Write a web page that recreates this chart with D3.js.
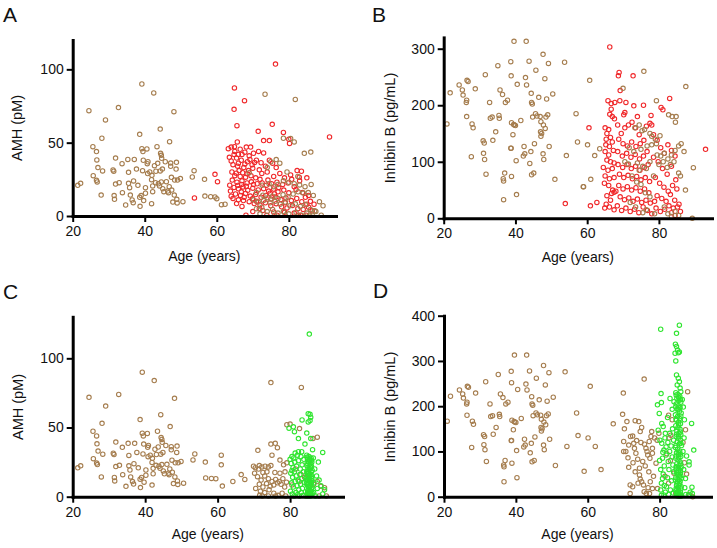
<!DOCTYPE html>
<html><head><meta charset="utf-8">
<script src="https://cdn.jsdelivr.net/npm/d3@7"></script>
<style>body{margin:0;background:#fff}svg{display:block}text{font-family:"Liberation Sans",Arial,Helvetica,sans-serif;fill:#111}</style>
</head><body>
<svg id="c" width="717" height="548"></svg>
<script>
// ---- data: [age, value] ----
const youngAMH = [[21.4,20.9],[22.2,22.3],[24.5,71.8],[25.6,47.3],[25.7,27.5],[26.6,43.9],[26.7,38.2],[26.6,24.3],[26.8,23.2],[27,33],[27.9,14.3],[28.1,53],[28.3,30.7],[29.1,65.5],[31.2,31.4],[31.4,30.5],[31.9,39.5],[31.5,13.9],[31.6,11.4],[31.9,21.8],[32.7,73.9],[32.9,22.7],[33.7,35.7],[33.8,15.9],[34.7,7.5],[35.3,38.6],[35.5,29.8],[35.5,22.3],[35.8,19.3],[36,14.3],[36.5,10.9],[36.9,23.9],[37.1,38.6],[36.8,9.1],[37.7,32],[38.1,20.9],[38.6,55.7],[38.6,12.7],[38.7,6.6],[39,13.9],[39.2,90],[39.2,45.9],[39.5,43.9],[39.4,30.9],[39.6,38],[39.7,10.5],[40.2,15.5],[40.2,19.3],[40.6,45.7],[40.7,35.7],[40.8,28.9],[40.9,37],[41.4,30],[41.9,8.4],[41.9,24.8],[42,27.7],[42.5,83.9],[42.2,20.5],[42.2,16.6],[42.7,34.3],[43.1,30.5],[43,22.7],[43.4,47.3],[43.6,35.9],[43.8,22],[44.1,20.5],[44.3,59.3],[44.3,30.7],[44.4,42.7],[44.6,41.4],[44.7,39.3],[44.6,23.2],[44.9,32],[45,18.6],[45.3,16.6],[45.7,37],[46,23.4],[46.4,17],[46.6,15.9],[46.8,20],[46.9,50.7],[47.2,36.1],[47.2,33.9],[47.4,26.4],[47.5,17.7],[47.8,9.5],[48.1,71.1],[48.2,14.3],[48.3,24.5],[48.7,32],[48.8,36.6],[49.1,24.5],[49,8.9],[48.9,11.4],[49.9,25.5],[50.6,9.8],[53.2,26.6],[53.7,30.9],[56.6,25],[56.7,13.6],[58.3,13.2],[59.5,13],[61.3,7.7]];

const youngInhB = [[20.9,167],[21.8,222],[24.3,236],[25.2,227],[25.4,218],[26.3,205],[26.4,209],[26.4,180],[26.5,244],[26.8,242],[27.7,109],[27.9,167],[28.2,160],[28.8,229],[31,137],[31.1,115],[31.3,133],[31.4,104],[31.6,254],[31.8,78],[32.8,205],[33,177],[33.5,179],[33.7,138],[34.5,153],[35.1,270],[35.4,182],[35.5,177],[35.7,227],[36.4,219],[36.6,70],[36.7,66],[36.7,33],[37,80],[37.2,205],[37.8,209],[38.7,277],[38.8,252],[38.7,124],[38.8,124],[38.9,74],[38.9,169],[39.3,148],[39.5,166],[39.6,313],[39.7,165],[40,164],[40.2,102],[40.3,42],[40.5,237],[41.5,173],[42.2,110],[42.4,127],[42.6,114],[42.8,249],[43,313],[43.1,236],[43.8,278],[44,97],[44.3,118],[44.4,221],[44.5,77],[44.5,205],[44.7,202],[44.8,179],[45.1,80],[45.3,132],[45.6,185],[45.7,262],[46,181],[46.5,214],[46.9,180],[47,153],[47.1,145],[47.1,171],[47.3,150],[47.7,290],[47.7,114],[47.8,165],[47.9,104],[48.2,247],[48.3,159],[48.5,179],[48.7,211],[49,183],[49.2,274],[49.4,127],[50.4,220],[51,69],[53.7,276],[54.2,111],[56.9,185],[57.3,135],[59,56],[60.1,130],[60.7,244],[62.1,111]];

const oldBrownA = [[73.4,83],[81.8,79.5],[76.5,38.5],[77.5,36],[78.5,53],[80.5,52.8],[81.5,50.5],[84.3,42.7],[86.1,43.6],[62.3,8],[60,11.8],[69,29.5],[72.6,21],[74.5,22],[75.8,20],[77,21.5],[78.5,24],[80,23],[81.5,22],[83,21.2],[84.5,20],[86.2,21.5],[71,16],[72.8,14.2],[74.2,12.5],[75.5,13.5],[77,12],[78.4,14.5],[79.8,13],[81.2,15],[82.6,16.5],[84,15.6],[85.4,16],[86.8,14],[70.2,11],[71.5,9.5],[73,10.5],[74.8,9],[76.2,10],[77.6,8],[79,9.5],[80.3,7],[81.8,8.3],[83.2,6.5],[84.6,7.8],[86,4.5],[87.2,3.5],[88.5,9.8],[89.5,7],[71,5],[72.5,6],[74,3],[75.5,4.5],[77,2],[78.5,3],[80,1.5],[82,2.5],[83.5,0.5],[85,2],[86.5,0.5],[89,0.5],[72,1.5],[76,0.5],[79,0.5],[85.8,0.5],[87.5,3],[75,37],[74,33],[79.5,30],[82.5,27]];

const redA = [[76.3,103.6],[64.9,87.3],[67.7,78.6],[64.8,72.7],[65.6,61.6],[75.4,62.5],[71.5,57.7],[78.5,57],[91.3,53.9],[73,51.4],[74.6,51.4],[80,52.3],[80.2,49.5],[65.7,50.5],[63.2,45.9],[64,47],[64.9,47.3],[68.2,47],[69.4,47],[64.8,42],[66,42],[67,42],[59.5,28.4],[60.2,23.4],[53.8,12.3],[65.5,39.5],[66.8,38],[68.5,37],[70.5,36.5],[71,38],[72.3,36.3],[69.8,35],[64.5,35],[65.8,34],[67.5,33],[66.2,31],[64.2,30],[68.8,31],[70,32.5],[71.8,31.5],[73.5,34],[74.6,38],[75.5,36],[76.5,33],[74,30],[72.5,29],[65,27.5],[66.5,27],[68,26.5],[69.5,27.5],[70.8,26],[64.3,24.5],[65.6,23],[67,24],[68.4,22.5],[69.6,23.3],[71.2,22],[72.6,22.5],[73.8,21],[75.2,22],[76.7,23],[78.3,21.5],[79.8,22.5],[81.5,20],[83,24],[80.5,28],[82.3,31],[83.5,30.5],[85,26],[64.8,19.5],[66,18.5],[67.3,19.8],[68.6,17.5],[70,19],[71.5,17.8],[73,18.6],[74.4,17],[75.8,18.4],[77,16.5],[78.6,17.7],[80,15.8],[65.2,15],[66.6,14],[68,15.4],[69.3,13.6],[70.8,14.6],[72.3,12.8],[73.6,14],[75,11.6],[76.4,13],[77.8,11.2],[79.2,12.3],[80.7,10.5],[82.2,12],[83.6,9.8],[85,8],[64.5,12],[66,11],[67.4,10.5],[69,9.8],[70.4,8.5],[72,7.6],[73.5,9],[75,7],[76.5,8.4],[78,6.3],[79.5,5.5],[81,7.2],[82.5,5],[84,4.5],[85.5,6],[86.5,3.5],[68.1,0.5],[73.9,0.5],[76.7,0.5],[82.7,0.5],[83.3,0.5],[84.8,0.5],[70,3],[72.8,3.8],[75.8,2.8],[78.8,2.5],[81.5,2],[63.5,40],[65,44],[66.5,45.5],[67.8,43.5],[69,41],[70.2,42.8],[71.6,44],[73,43],[64,37.5],[66,36],[67.8,35.5],[69.2,38.5],[65.4,29.2],[67.2,29.5],[68.4,28.8],[63.6,21],[63.8,17],[64,13.5],[65.8,20.8],[66.8,16.5],[67.6,12.8],[69.9,11.8],[71,10],[74.2,24.5],[75.8,27],[77.5,29],[78.8,26],[80.8,25],[82,18],[83.8,16],[84.6,12.7],[79,9],[76,15],[72,25],[66.9,21.5],[68.2,20.2],[70.2,21.5],[74.8,15.5],[77.2,19.5],[82.9,26.5],[85.5,14],[86,10],[87,8],[71.8,5],[67,6.5],[65.5,8.5]];

const oldBrownB = [[70,230],[75.8,260],[79.3,208],[82.7,183],[83.7,180],[84.8,180],[84.6,170],[87.5,233],[89.6,89.5],[87.4,50],[76,157],[77.5,150],[78,145],[79,140],[74.5,165],[75.3,155],[73.3,160],[71.7,125],[73,118],[75,122],[76.7,128],[78,130],[79.3,132],[80.5,110],[81.5,115],[82.5,105],[83.5,112],[84.5,120],[85.5,128],[86.2,132],[80,95],[81.2,100],[82.3,90],[83.2,95],[84.2,100],[85.5,80],[86,75],[87,118],[74,98],[75.5,92],[76.5,88],[77.5,100],[78.5,75],[74.5,85],[72.5,75],[73.8,64],[75,60],[76.2,45],[77.5,38],[72,28],[73.5,20],[75.5,10],[76.5,15],[78.8,8],[81.5,20],[82.5,8],[83.5,3],[84.5,12],[85.5,5],[89.3,0],[63.5,123],[70.5,100],[71.5,96],[79.5,112],[80.3,146],[61,69],[58.9,56]];

const redB = [[66.3,303],[68.9,258],[68.7,252],[72.8,252],[69.2,226],[65.8,208],[66.7,203],[67.7,205],[69.1,208],[66.7,193],[66.3,184],[67,180],[67.6,176],[73,199],[74,180],[70.2,183],[70.5,187],[83,212],[80.6,196],[81.1,192],[93,122],[60.5,160],[53.9,26],[60.9,22],[62.7,28],[65,160],[65.5,150],[66,157],[65.3,140],[66.5,143],[65.2,130],[66.2,127],[67,135],[65,118],[66,112],[67.3,120],[65.5,103],[66.5,100],[67.5,98],[64.5,90],[65.8,85],[67,88],[65,75],[66.2,70],[67.5,72],[64.8,62],[66,58],[67.1,50],[67.5,46],[66.8,44],[68,48],[65.5,40],[66.5,32],[65.3,25],[66.2,20],[64.9,18],[67.5,15],[68.5,165],[69.5,150],[70.5,160],[71.5,165],[72.5,170],[73.5,160],[74.5,148],[68.8,140],[70,132],[71.2,128],[72.4,135],[73.6,127],[74.8,132],[75.8,138],[68.5,118],[69.8,110],[71,115],[72.2,108],[73.4,113],[74.6,105],[75.7,110],[76.7,118],[68.6,95],[69.9,90],[71.1,95],[72.3,88],[73.5,92],[74.7,85],[75.9,90],[77,95],[69,78],[70.2,72],[71.4,76],[72.6,70],[73.8,74],[75,68],[76.2,72],[77.4,65],[68.8,58],[70,52],[71.2,56],[72.4,50],[73.6,54],[74.8,48],[76,52],[77.2,45],[69.2,38],[70.4,33],[71.6,36],[72.8,30],[74,34],[75.2,28],[76.4,32],[77.6,27],[78.8,30],[68.4,22],[69.6,14],[70.8,18],[72,12],[73.2,16],[74.4,10],[75.6,20],[76.8,14],[78,8],[79.2,18],[80.4,12],[81.6,16],[82.8,22],[84,18],[85.2,20],[83.5,10],[84.5,5],[86,12],[78.5,148],[79.5,138],[80.5,125],[81.5,115],[82.5,130],[83.5,120],[84.5,110],[78.5,108],[79.8,100],[81,88],[82.3,78],[83.5,92],[84.7,68],[79,72],[80.2,62],[81.4,55],[82.6,48],[83.8,58],[85,52],[79.5,40],[80.8,35],[82,30],[83.2,42],[84.4,32],[85.6,25],[78,165],[76.5,163],[77.8,182],[70.8,205],[75.7,200],[77.5,168]];

const oldBrownC = [[74.7,82.5],[83.1,79],[79.1,52],[80,52.5],[82.6,49.2],[87.5,43],[71.1,33.5],[74.7,38],[75.9,38.6],[76.5,35.4],[75,30],[77.2,26.5],[78.2,23],[79.1,24.5],[69.9,22],[70.4,21],[71.3,20],[72.2,21.5],[73.1,22],[74,21.5],[74.7,22.5],[66.5,16],[67.5,12.5],[64.2,11],[61,30],[61,23],[70.2,17],[71,14.5],[72,12],[73,15],[74,13],[75,11],[76,12.5],[77,11],[78,13],[79,10.5],[71.5,9],[72.5,7],[73.5,9.5],[74.5,7.5],[75.5,8.5],[76.5,10],[77.5,9],[78.5,7],[70.5,6],[71.8,4],[73,3],[74.2,5],[75.5,2.5],[76.7,1],[77.8,2.5],[78.8,0.5],[71.6,1],[72.3,0.5],[74,0.5],[76,0.5],[80.5,8.5],[82.5,11],[84,14],[85,17],[86.5,9],[87.5,11],[88.5,7.5],[89.5,6.5],[88,0.5],[90,0.5],[84.8,2.5],[86.3,42],[83,16],[81.5,20],[78.6,18],[77.2,17],[75.8,17.5],[73.6,18],[72.5,17.5],[71.5,22.5]];

const greenC = [[85.3,117.5],[85,60],[85.5,59.5],[85.7,57.5],[85.5,55],[85,54],[83.3,55.5],[84.6,46],[82.3,42],[85.7,42],[81.2,47],[79.7,49.5],[80.9,50.5],[84.1,38],[86.2,34],[89,32],[83.2,32.5],[82.3,32.5],[81.4,31.5],[80.5,29],[80,27],[84.6,30],[85.2,29],[85.8,28],[84.8,27],[85.4,26],[86,25],[84.7,24],[85.3,23],[85.9,22],[84.9,21],[85.5,20],[86.1,19],[84.6,18],[85.2,17],[85.8,16],[84.8,15],[85.4,14],[86,13],[84.7,12],[85.3,11],[85.9,10],[84.9,9],[85.5,8],[86.1,7],[84.6,6],[85.2,5],[85.8,4],[84.8,3],[85.4,2],[86,1],[85,0.5],[85.6,0.5],[84.4,0.5],[85.1,25.5],[85.6,21.5],[84.9,18.5],[85.4,12.5],[85,7.5],[85.6,3.5],[84.5,9.5],[85.9,14.5],[84.7,28.5],[85.3,27.5],[85.9,26.5],[84.6,22.5],[85.2,19.5],[85.8,18],[84.8,16.5],[85.4,15.5],[86,11.5],[84.7,10.5],[85.3,6.5],[85.9,5.5],[84.9,4.5],[85.5,1.5],[86.1,2.5],[84.5,14],[85.7,24],[84.9,12],[85.1,3],[85.7,9],[80.3,24],[80.8,21],[81.3,25],[81.8,22],[82.3,26],[82.8,20],[83.3,23],[83.8,27],[80.2,17],[80.7,14],[81.2,18],[81.7,15],[82.2,12],[82.7,16],[83.2,13],[83.7,18],[80.4,10],[80.9,7],[81.4,11],[81.9,8],[82.4,5],[82.9,9],[83.4,6],[83.9,10],[80.1,4],[80.6,2],[81.1,0.5],[81.6,3],[82.1,1.5],[82.6,0.5],[83.1,3],[83.6,1],[80.5,19],[81,28],[82,30],[83,29],[86.8,20],[87.3,15],[86.6,10],[87.5,6],[88,12],[88.5,8],[89.5,5],[89,2],[86.5,3],[87.8,25],[86.4,28],[87,0.5]];

const oldBrownD = [[63.7,60],[67.1,161],[69.9,229],[69.7,182],[70.2,150],[70.9,166],[71.4,114],[71.9,133],[72.5,134],[70,122],[70,100],[70.6,100],[71.2,86],[71.4,65],[71.8,26],[72.5,22],[71.8,7],[73.2,168],[74.2,166],[74.6,144],[75,153],[75.7,260],[73,107],[73.4,96],[73.9,83],[74.4,63],[74.4,48],[74.6,39],[75,33],[75.5,26],[75.7,11],[76.3,7],[76.7,92],[76.2,107],[77.1,122],[77.6,133],[77.8,144],[77.4,33],[78,18],[77.2,7],[78,107],[78,96],[79,74],[79.4,18],[84,52],[84.5,7],[89.2,0],[83.1,136],[72.8,118],[73.6,124],[74.8,120],[75.8,116],[76.5,100],[77.3,85],[75.3,78],[76,68],[77,55],[78.3,45],[72.6,75],[73.2,55],[74,30],[76.8,20],[78.6,130],[79.3,125],[79.8,140],[82.5,180],[83.5,170],[82.6,130],[86.5,120],[87.2,148],[87.8,232],[87.5,50],[86.9,75],[82,95],[83,80],[81.5,45],[82.5,30],[88.3,5]];

const greenD = [[85.5,379],[80.3,370],[84.7,361],[84.4,337],[84.7,332],[85,324],[85.5,320],[84.3,317],[85.2,318],[84.5,300],[84.7,269],[85.2,262],[85.5,254],[84.9,247],[85.7,240],[80.4,228],[82.9,217],[79.4,203],[79.9,184],[88.9,162],[80.6,162],[81,155],[79.6,147],[80.1,125],[80.6,118],[81.2,103],[88.2,77],[88.2,70],[89.1,7],[89.5,103],[89,21],[87.3,5],[88,3],[80.5,208],[81.6,140],[82.2,175],[83.5,193],[84,210],[85.9,232],[86.3,215],[86.6,198],[80,80],[80.3,60],[80.8,40],[81.3,25],[81.6,10],[80.5,3],[84.5,230],[85.1,226],[85.6,222],[84.8,217],[85.4,213],[85.9,209],[84.6,205],[85.2,201],[85.7,197],[84.9,193],[85.5,189],[86,185],[84.4,181],[85,177],[85.6,173],[84.7,169],[85.3,165],[85.8,161],[84.5,157],[85.1,153],[85.7,149],[84.8,145],[85.4,141],[85.9,137],[84.6,133],[85.2,129],[85.8,125],[84.9,121],[85.5,117],[86.1,113],[84.4,109],[85,105],[85.6,101],[84.7,97],[85.3,93],[85.9,89],[84.5,85],[85.1,81],[85.7,77],[84.8,73],[85.4,69],[86,65],[84.6,61],[85.2,57],[85.8,53],[84.9,49],[85.5,45],[86.1,41],[84.4,37],[85,33],[85.6,29],[84.7,25],[85.3,21],[85.9,17],[84.5,13],[85.1,9],[85.7,5],[84.8,2],[85.4,1],[86,3],[84.6,225],[85.3,219],[85.8,214],[84.5,199],[85.2,194],[85.9,178],[84.6,171],[85.3,159],[85.8,143],[84.7,138],[85.3,134],[85.9,118],[84.5,113],[85.2,98],[85.8,94],[84.6,90],[85.3,86],[85.9,72],[84.6,66],[85.2,63],[85.8,58],[84.7,54],[85.3,50],[85.9,46],[84.5,42],[85.1,38],[85.7,34],[84.8,30],[85.4,26],[86,22],[84.6,18],[85.2,14],[85.8,10],[84.7,7],[85.3,4],[85.9,1],[81.5,130],[82.3,120],[83.2,112],[83.9,125],[82.8,100],[81.8,92],[83.5,88],[80.8,85],[82.4,78],[83.7,70],[81.3,68],[82.6,60],[83.9,55],[81,50],[82.2,42],[83.3,35],[80.5,30],[81.9,22],[83,15],[83.8,8],[82.5,5],[81.2,4],[80.3,15],[82.8,140],[83.6,150],[81.8,110],[80.9,98],[86.8,130],[87.5,90],[86.7,60],[87.2,40],[88.5,10],[87,20],[86.5,100],[86.9,170]];

const xTicks = [20, 40, 60, 80];
const yTicksAMH_A = [0, 50, 100];
const yTicksInh_B = [0, 100, 200, 300];
const yTicksAMH_C = [0, 50, 100];
const yTicksInh_D = [0, 100, 200, 300, 400];

const BROWN = "#a57d4e", RED = "#f0282a", GREEN = "#2fe52f";

const panels = [
  {letter:"A", lx:3, ly:22, xr:[72.7,336], xd:[20,93.1], yr:[216,40], yd:[0,120], yt:yTicksAMH_A, ylab:"AMH (pM)", ylx:17, yly:128, xly:261,
   series:[[youngAMH,BROWN],[redA,RED],[oldBrownA,BROWN]]},
  {letter:"B", lx:372, ly:22, xr:[443.7,712], xd:[20,94.8], yr:[218.3,37.4], yd:[0,320], yt:yTicksInh_B, ylab:"Inhibin B (pg/mL)", ylx:390, yly:128, xly:262,
   series:[[youngInhB,BROWN],[redB,RED],[oldBrownB,BROWN]]},
  {letter:"C", lx:3, ly:299, xr:[72.7,343], xd:[20,94.6], yr:[496.7,316.8], yd:[0,130], yt:yTicksAMH_C, ylab:"AMH (pM)", ylx:18, yly:407, xly:539,
   series:[[youngAMH,BROWN],[oldBrownC,BROWN],[greenC,GREEN]]},
  {letter:"D", lx:373, ly:298, xr:[444,711], xd:[20,94.3], yr:[496.7,315.7], yd:[0,400], yt:yTicksInh_D, ylab:"Inhibin B (pg/mL)", ylx:390, yly:407, xly:539,
   series:[[youngInhB,BROWN],[oldBrownD,BROWN],[greenD,GREEN]]}
];

const svg = d3.select("#c");

panels.forEach(p => {
  const x = d3.scaleLinear().domain(p.xd).range(p.xr);
  const y = d3.scaleLinear().domain(p.yd).range(p.yr);
  const g = svg.append("g");

  p.series.forEach(([data, col]) => {
    g.append("g").selectAll("circle").data(data).join("circle")
      .attr("cx", d => x(d[0])).attr("cy", d => y(d[1])).attr("r", 2.2)
      .attr("fill", "none").attr("stroke", col).attr("stroke-width", 1.1);
  });

  const xa = g.append("g").attr("transform", `translate(0,${p.yr[0]})`)
    .call(d3.axisBottom(x).tickValues(xTicks).tickSize(6).tickPadding(4).tickSizeOuter(0));
  const ya = g.append("g").attr("transform", `translate(${p.xr[0]},0)`)
    .call(d3.axisLeft(y).tickValues(p.yt).tickSize(6).tickPadding(3).tickSizeOuter(0));
  [xa, ya].forEach(a => {
    a.select(".domain").attr("stroke", "#000").attr("stroke-width", 3).attr("stroke-linecap", "square");
    a.selectAll(".tick line").attr("stroke", "#000").attr("stroke-width", 2);
    a.selectAll(".tick text").attr("font-size", 14).attr("fill", "#111")
      .style("font-family", '"Liberation Sans", Arial, sans-serif');
  });

  g.append("text").attr("x", (p.xr[0] + p.xr[1]) / 2).attr("y", p.xly)
    .attr("text-anchor", "middle").attr("font-size", 14).text("Age (years)");
  g.append("text").attr("transform", `translate(${p.ylx},${p.yly}) rotate(-90)`)
    .attr("text-anchor", "middle").attr("dy", "0.35em").attr("font-size", 14.5).text(p.ylab);
  g.append("text").attr("x", p.lx).attr("y", p.ly).attr("font-size", 21).text(p.letter);
});
</script>
</body></html>
